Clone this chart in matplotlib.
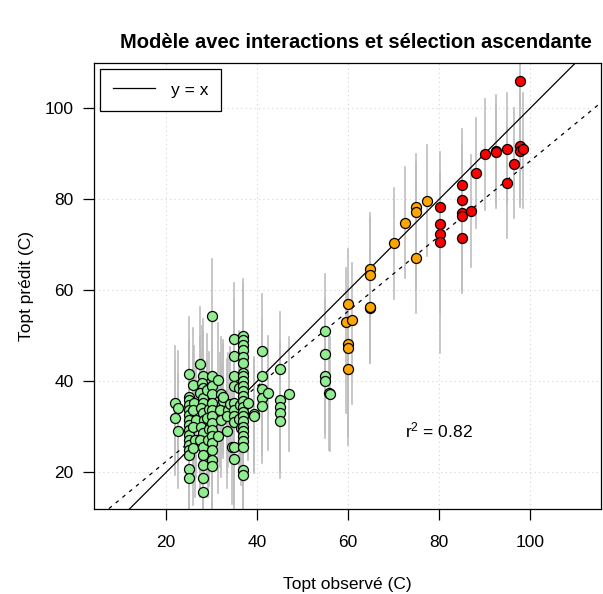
import numpy as np
import matplotlib
matplotlib.use("Agg")
import matplotlib.pyplot as plt

plt.rcParams['font.family'] = ['Liberation Sans', 'DejaVu Sans']
plt.rcParams['mathtext.fontset'] = 'custom'
plt.rcParams['mathtext.rm'] = 'Liberation Sans'
plt.rcParams['mathtext.it'] = 'Liberation Sans'

# green group (observed, predicted)
green_x = [22.0, 22.5, 22.0, 22.5,
           25.0, 25.0, 25.0, 25.0, 25.0, 25.0, 25.0, 25.0, 25.0, 25.0, 25.0, 25.0, 25.0, 25.0, 25.0, 25.0,
           26.0, 26.2, 26.0, 26.5, 26.0, 26.3, 26.0,
           27.5, 28.0, 27.8, 28.0, 27.5, 28.0, 28.0, 27.6, 28.0, 28.3, 27.7, 28.0, 27.5, 28.0, 28.0, 28.0, 28.0, 28.0,
           29.0, 29.4, 29.0, 29.5, 29.2,
           30.0, 30.0, 30.0, 30.0, 30.0, 30.0, 30.0, 30.0, 30.0, 30.0, 30.0, 30.0, 30.0, 30.0,
           31.5, 32.0, 32.4, 31.8, 32.0, 31.5, 32.5,
           33.5, 33.3, 33.3, 34.0, 34.5,
           35.0, 35.0, 35.0, 35.0, 35.0, 35.0, 35.0, 35.0, 35.0, 35.0,
           36.0, 36.3, 36.0, 36.5,
           37.0, 37.0, 37.0, 37.0, 37.0, 37.0, 37.0, 37.0, 37.0, 37.0, 37.0, 37.0, 37.0, 37.0, 37.0, 37.0,
           37.0, 37.0, 37.0, 37.0, 37.0, 37.0, 37.0, 37.0,
           38.0, 39.4, 39.4,
           41.0, 41.0, 41.0, 41.0, 41.0,
           42.3,
           45.0, 45.0, 45.0, 45.0, 45.0,
           47.0,
           55.0, 55.0, 55.0, 55.0, 55.9, 56.0]
green_y = [35.2, 34.2, 32.0, 29.1,
           41.6, 36.6, 35.9, 34.8, 33.7, 32.6, 31.5, 30.4, 29.3, 28.2, 27.1, 26.0, 24.9, 23.8, 20.7, 18.8,
           39.2, 35.2, 33.7, 31.5, 30.0, 27.1, 25.3,
           43.8, 41.1, 39.6, 38.5, 37.4, 36.3, 35.2, 34.1, 33.0, 31.5, 30.0, 28.6, 27.1, 25.6, 23.8, 21.6, 18.8, 15.7,
           38.0, 34.0, 32.0, 29.5, 27.0,
           54.4, 41.1, 38.9, 37.1, 35.2, 33.7, 32.3, 30.8, 29.3, 27.9, 26.4, 24.9, 22.7, 21.3,
           40.3, 37.3, 35.6, 33.7, 31.5, 28.0, 36.5,
           33.7, 32.3, 29.0, 35.0, 25.6,
           49.2, 45.6, 41.2, 39.0, 35.2, 33.7, 32.3, 31.0, 25.6, 22.9,
           38.5, 34.8, 31.8, 29.8,
           50.0, 49.1, 48.0, 46.9, 45.4, 44.1, 41.8, 41.1, 40.0, 38.9, 37.8, 36.7, 35.6, 34.4, 33.3, 32.3,
           31.2, 30.0, 29.0, 27.9, 26.8, 25.6, 20.5, 19.4,
           35.2, 32.8, 32.3,
           46.7, 41.2, 38.2, 36.3, 34.6,
           37.5,
           42.7, 35.9, 34.4, 33.0, 31.2,
           37.2,
           51.1, 45.9, 41.2, 40.1, 37.5, 37.2]
green_err = 12.5

# orange group
orange_x = [59.9, 59.5, 60.9, 59.9, 59.9, 59.9, 64.9, 64.9, 64.9, 64.9, 70.0, 72.5, 74.9, 74.9, 74.9, 77.4]
orange_y = [57.1, 53.0, 53.5, 48.1, 47.4, 42.7, 64.6, 63.4, 56.1, 56.4, 70.3, 74.9, 78.4, 77.3, 67.0, 79.6]
orange_lo = [30, 33, 35, 28, 28, 26, 48, 45, 44, 44, 58.2, 62.6, 62, 60, 55, 67.5]
orange_hi = [69, 65, 66, 60, 60, 55, 77, 76, 70, 70, 82.4, 87.2, 90, 88, 80, 92]

# red group
red_x = [80.1, 80.1, 80.1, 80.1, 85.0, 85.0, 85.0, 85.0, 85.0, 87.0, 88.1, 90.0,
         92.5, 92.5, 95.0, 95.0, 96.5, 97.9, 97.9, 97.9, 98.5]
red_y = [78.4, 74.6, 72.3, 70.7, 83.1, 79.8, 76.9, 76.3, 71.4, 77.4, 85.8, 89.9,
         90.7, 90.3, 91.1, 83.5, 87.8, 91.8, 90.6, 106.1, 91.0]
red_lo = [66, 62, 55, 46.2, 70, 65, 62, 60, 59.3, 65.2, 73.6, 77.6,
          78, 79, 79, 71.4, 75.8, 78.4, 79, 92, 78]
red_hi = [90.5, 86, 85, 82, 95.4, 92, 90, 88, 84, 89.7, 97.8, 102.1,
          102.9, 101, 103.4, 96, 100, 104, 102, 120, 103.3]

# regression of predicted on observed (dashed)
reg_a, reg_b = 5.9, 0.825
r2 = 0.82

W, H = 603, 594
fig = plt.figure(figsize=(W / 100, H / 100), dpi=100)
ax = fig.add_axes([94.3 / W, 1 - 509 / H, (601 - 94.3) / W, (509 - 63.3) / H])
ax.set_xlim(4.2, 115.6)
ax.set_ylim(11.93, 109.9)

ticks = [20, 40, 60, 80, 100]
for t in ticks:
    ax.axvline(t, color='#d3d3d3', lw=0.8, ls=(0, (1, 3)), zorder=0)
    ax.axhline(t, color='#d3d3d3', lw=0.8, ls=(0, (1, 3)), zorder=0)

bar_col = '#bebebe'
for x, v in zip(green_x, green_y):
    ax.plot([x, x], [v - green_err, v + green_err], color=bar_col, lw=1.2, zorder=1)
for x, lo, hi in zip(orange_x, orange_lo, orange_hi):
    ax.plot([x, x], [lo, hi], color=bar_col, lw=1.2, zorder=1)
for x, lo, hi in zip(red_x, red_lo, red_hi):
    ax.plot([x, x], [lo, hi], color=bar_col, lw=1.2, zorder=1)

xx = np.array([0, 120])
ax.plot(xx, xx, color='black', lw=0.9, zorder=2, label='y = x')
ax.plot(xx, reg_a + reg_b * xx, color='black', lw=0.9, ls=(0, (3, 4)), zorder=2)

ms = 52
ax.scatter(green_x, green_y, s=ms, c='#90ee90', edgecolors='black', linewidths=0.9, zorder=3)
ax.scatter(orange_x, orange_y, s=ms, c='#ffa500', edgecolors='black', linewidths=0.9, zorder=3)
ax.scatter(red_x, red_y, s=ms, c='#ff0000', edgecolors='black', linewidths=0.9, zorder=3)

ax.text(80, 29.3, r'r$^{2}$ = ' + f'{r2:.2f}', fontsize=12.5, ha='center', va='center')

ax.set_xticks(ticks)
ax.set_yticks(ticks)
ax.tick_params(labelsize=12.5, length=8, width=0.9, direction='out')
ax.tick_params(axis='x', pad=11)
ax.tick_params(axis='y', pad=7)
for s in ax.spines.values():
    s.set_linewidth(0.9)

ax.set_xlabel('Topt observé (C)', fontsize=12.5, labelpad=19)
ax.set_ylabel('Topt prédit (C)', fontsize=12.5, labelpad=7.5)
fig.text(356 / W, 1 - 42 / H, 'Modèle avec interactions et sélection ascendante',
         fontsize=14.5, fontweight='bold', ha='center', va='center')

leg = ax.legend(loc='upper left', fontsize=12.5, handlelength=2.4, handletextpad=0.9,
                fancybox=False, edgecolor='black', framealpha=1,
                borderaxespad=0.35, borderpad=0.75)
leg.get_frame().set_linewidth(0.9)

fig.savefig('out.png', dpi=100)
